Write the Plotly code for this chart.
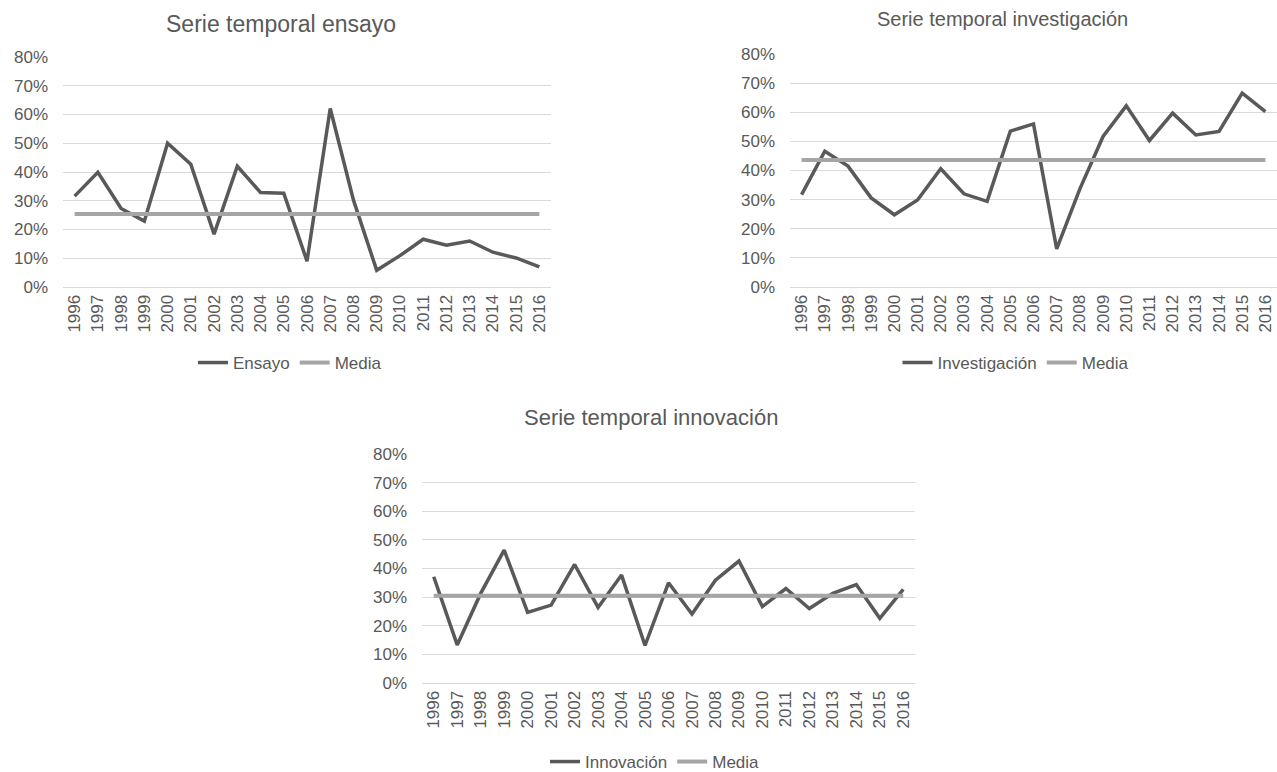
import plotly.graph_objects as go

W, H = 1277, 772

years = [str(y) for y in range(1996, 2017)]

# Series values (percent)
ensayo = [31.6, 39.9, 27.3, 22.9, 50.0, 42.7, 18.4, 42.0, 32.9, 32.6, 9.0,
          62.1, 30.2, 5.8, 10.9, 16.6, 14.5, 16.0, 12.1, 10.1, 7.0]
investigacion = [31.7, 46.6, 41.5, 30.6, 24.8, 29.9, 40.6, 32.0, 29.4, 53.5, 56.0,
                 13.1, 33.7, 51.7, 62.2, 50.3, 59.7, 52.2, 53.4, 66.6, 60.2]
innovacion = [37.1, 13.3, 31.3, 46.4, 24.7, 27.2, 41.4, 26.4, 37.7, 13.1, 35.0,
              24.1, 35.9, 42.6, 26.7, 33.0, 26.0, 31.3, 34.4, 22.6, 32.7]

media_ensayo = 25.4
media_investigacion = 43.6
media_innovacion = 30.5

titles = ["Serie temporal ensayo", "Serie temporal investigación", "Serie temporal innovación"]
names = ["Ensayo", "Investigación", "Innovación"]
y_ticks = [0, 10, 20, 30, 40, 50, 60, 70, 80]
y_ticktext = [f"{v}%" for v in y_ticks]

DARK = "#595959"
GREY = "#A5A5A5"
GRID = "#D9D9D9"
FONT = "Liberation Sans, Arial, sans-serif"

# pixel boxes of each plot area: (left, right, top, bottom)
boxes = [(63, 551, 57, 287), (790, 1277, 54, 287), (422, 915, 454, 683)]
title_pos = [(281, 24, 23), (1002, 19, 20), (651, 418, 22)]
legend_pos = [(290, 363), (1016, 363), (655, 762)]

series = [(ensayo, media_ensayo), (investigacion, media_investigacion),
          (innovacion, media_innovacion)]

fig = go.Figure()

for i, ((vals, media), name) in enumerate(zip(series, names)):
    k = "" if i == 0 else str(i + 1)
    leg = "legend" if i == 0 else f"legend{i + 1}"
    fig.add_trace(go.Scatter(x=years, y=vals, mode="lines", name=name,
                             line=dict(color=DARK, width=3.5),
                             xaxis="x" + k, yaxis="y" + k, legend=leg))
    fig.add_trace(go.Scatter(x=years, y=[media] * len(years), mode="lines", name="Media",
                             line=dict(color=GREY, width=4),
                             xaxis="x" + k, yaxis="y" + k, legend=leg))

layout = dict(
    width=W, height=H, margin=dict(l=0, r=0, t=0, b=0, autoexpand=False),
    paper_bgcolor="white", plot_bgcolor="white",
    font=dict(family=FONT, color=DARK, size=17),
    annotations=[],
)

for i, (l, r, t, b) in enumerate(boxes):
    k = "" if i == 0 else str(i + 1)
    layout["xaxis" + k] = dict(
        domain=[l / W, r / W], anchor="y" + k, type="category",
        range=[-0.5, 20.5], tickangle=-90, showgrid=False,
        showline=True, linecolor=GRID, linewidth=1, ticks="",
        tickfont=dict(size=17, color=DARK), fixedrange=True,
    )
    layout["yaxis" + k] = dict(
        domain=[(H - b) / H, (H - t) / H], anchor="x" + k,
        range=[0, 80], tickvals=y_ticks, ticktext=y_ticktext,
        showgrid=True, gridcolor=GRID, gridwidth=1, zeroline=False,
        showline=False, ticks="", tickfont=dict(size=17, color=DARK),
        ticklabelstandoff=14, fixedrange=True,
    )
    tx, ty, ts = title_pos[i]
    layout["annotations"].append(dict(
        text=titles[i], x=tx / W, y=(H - ty) / H, xref="paper", yref="paper",
        xanchor="center", yanchor="middle", showarrow=False,
        font=dict(size=ts, color=DARK, family=FONT)))
    lx, ly = legend_pos[i]
    layout["legend" if i == 0 else f"legend{i + 1}"] = dict(
        orientation="h", x=lx / W, y=(H - ly) / H, xanchor="center", yanchor="middle",
        font=dict(size=17, color=DARK), bgcolor="rgba(0,0,0,0)",
        itemclick=False, itemdoubleclick=False,
    )

fig.update_layout(**layout)
fig.write_html("out.html")
